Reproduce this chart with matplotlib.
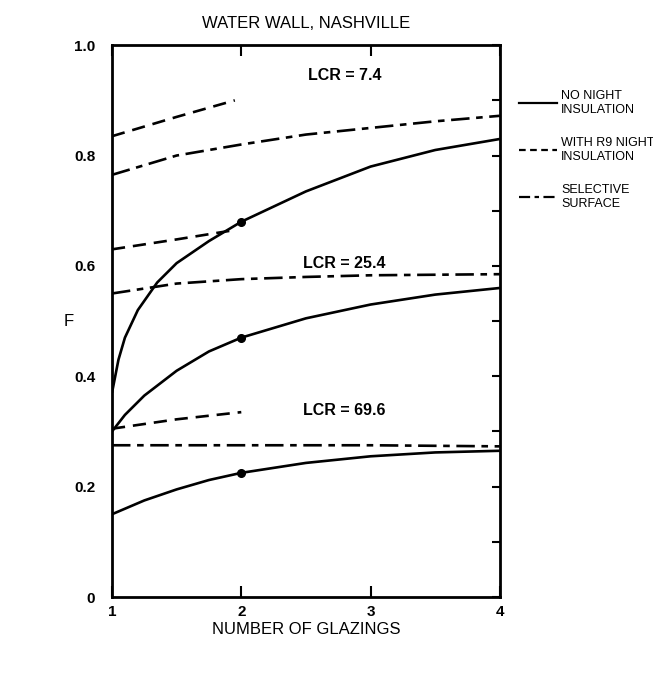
import matplotlib
matplotlib.use("Agg")
import matplotlib.pyplot as plt
from matplotlib.lines import Line2D

# ---- data ----
glazings = [1, 2, 3, 4]

# LCR = 7.4
x_no_74 = [1.0, 1.05, 1.1, 1.2, 1.35, 1.5, 1.75, 2.0, 2.5, 3.0, 3.5, 4.0]
y_no_74 = [0.37, 0.43, 0.47, 0.52, 0.57, 0.605, 0.645, 0.68, 0.735, 0.78, 0.81, 0.83]
x_r9_74 = [1.0, 1.5, 1.95]
y_r9_74 = [0.835, 0.87, 0.90]
x_sel_74 = [1.0, 1.5, 2.0, 2.5, 3.0, 3.5, 4.0]
y_sel_74 = [0.765, 0.80, 0.82, 0.838, 0.85, 0.862, 0.872]

# LCR = 25.4
x_no_254 = [1.0, 1.1, 1.25, 1.5, 1.75, 2.0, 2.5, 3.0, 3.5, 4.0]
y_no_254 = [0.30, 0.33, 0.365, 0.41, 0.445, 0.47, 0.505, 0.53, 0.548, 0.56]
x_r9_254 = [1.0, 1.5, 1.95]
y_r9_254 = [0.63, 0.648, 0.665]
x_sel_254 = [1.0, 1.5, 2.0, 2.5, 3.0, 3.5, 4.0]
y_sel_254 = [0.55, 0.568, 0.576, 0.58, 0.583, 0.584, 0.585]

# LCR = 69.6
x_no_696 = [1.0, 1.25, 1.5, 1.75, 2.0, 2.5, 3.0, 3.5, 4.0]
y_no_696 = [0.15, 0.175, 0.195, 0.212, 0.225, 0.243, 0.255, 0.262, 0.265]
x_r9_696 = [1.0, 1.5, 2.0]
y_r9_696 = [0.305, 0.322, 0.335]
x_sel_696 = [1.0, 2.0, 3.0, 4.0]
y_sel_696 = [0.275, 0.275, 0.275, 0.273]

dot_x = [2.0, 2.0, 2.0]
dot_y = [0.68, 0.47, 0.225]

lcr_labels = ["LCR = 7.4", "LCR = 25.4", "LCR = 69.6"]
lcr_pos_y = [0.945, 0.605, 0.338]

legend_labels = ["NO NIGHT\nINSULATION", "WITH R9 NIGHT\nINSULATION", "SELECTIVE\nSURFACE"]

yticks = [0, 0.1, 0.2, 0.3, 0.4, 0.5, 0.6, 0.7, 0.8, 0.9, 1.0]
yticklabels = ["0", "", "0.2", "", "0.4", "", "0.6", "", "0.8", "", "1.0"]
xticklabels = ["1", "2", "3", "4"]

# ---- style ----
plt.rcParams['font.family'] = ['Liberation Sans', 'DejaVu Sans']
LW = 1.9
DASH = (0, (5, 3))
DASHDOT = (0, (7, 2.5, 2.5, 2.5))

fig = plt.figure(figsize=(6.53, 6.73), dpi=100)
ax = fig.add_axes([0.1715, 0.1129, 0.594, 0.820])

for xs, ys in [(x_no_74, y_no_74), (x_no_254, y_no_254), (x_no_696, y_no_696)]:
    ax.plot(xs, ys, color='black', lw=LW, solid_capstyle='butt')
for xs, ys in [(x_r9_74, y_r9_74), (x_r9_254, y_r9_254), (x_r9_696, y_r9_696)]:
    ax.plot(xs, ys, color='black', lw=LW, linestyle=DASH)
for xs, ys in [(x_sel_74, y_sel_74), (x_sel_254, y_sel_254), (x_sel_696, y_sel_696)]:
    ax.plot(xs, ys, color='black', lw=LW, linestyle=DASHDOT)

ax.plot(dot_x, dot_y, 'o', color='black', markersize=5.5)

for lab, yy in zip(lcr_labels, lcr_pos_y):
    ax.text(2.8, yy, lab, fontsize=11.5, ha='center', va='center', fontweight='bold')

ax.set_xlim(1, 4)
ax.set_ylim(0, 1.0)
ax.set_xticks(glazings)
ax.set_xticklabels(xticklabels, fontsize=11, fontweight='bold')
ax.set_yticks(yticks)
ax.set_yticklabels(yticklabels, fontsize=11, fontweight='bold')
ax.tick_params(axis='y', direction='in', left=False, right=True, length=6, width=1.5, pad=12)
ax.tick_params(axis='x', direction='in', top=True, bottom=True, length=8, width=1.5, pad=6)
for s in ax.spines.values():
    s.set_linewidth(2.0)

ax.set_title("WATER WALL, NASHVILLE", fontsize=12, pad=12)
ax.set_xlabel("NUMBER OF GLAZINGS", fontsize=12, labelpad=2)
ax.set_ylabel("F", fontsize=12, rotation=0, labelpad=4, va='center')

handles = [Line2D([], [], color='black', lw=1.6),
           Line2D([], [], color='black', lw=1.6, linestyle=(0, (3, 2))),
           Line2D([], [], color='black', lw=1.6, linestyle=(0, (5, 2, 2, 2)))]
leg = fig.legend(handles, legend_labels, loc='upper left', bbox_to_anchor=(0.795, 0.866),
                 frameon=False, fontsize=9, handlelength=3.0, handletextpad=0.35,
                 labelspacing=1.7, borderaxespad=0, borderpad=0)

fig.savefig("out.png", dpi=100)
